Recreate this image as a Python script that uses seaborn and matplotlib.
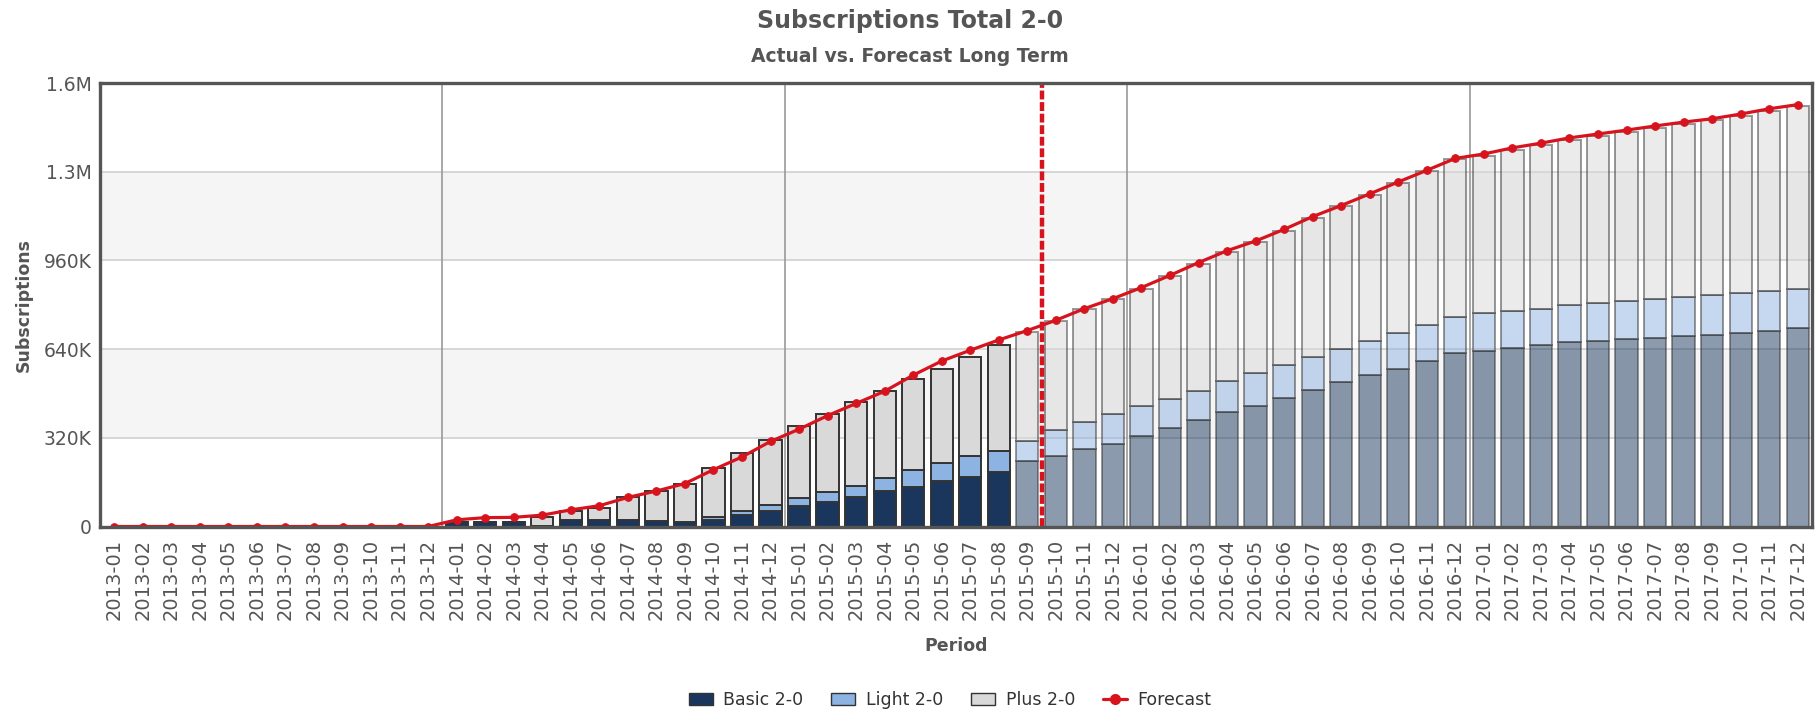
import numpy as np
import matplotlib
matplotlib.use("Agg")
import matplotlib.pyplot as plt
import seaborn as sns
from matplotlib.patches import Patch
from matplotlib.lines import Line2D

# categories: monthly periods 2013-01 .. 2017-12
periods = [f"{y}-{m:02d}" for y in range(2013, 2018) for m in range(1, 13)]

# values in thousands of subscriptions
basic = [0] * 12 + [15, 17, 17, 3, 22, 22, 22, 20, 17, 22,
                    43, 57, 73, 88, 107, 128, 143, 165, 178, 195,
                    235, 255, 278, 297, 326, 355, 384, 412, 433, 463,
                    492, 520, 548, 570, 597, 627, 634, 643, 656, 665,
                    671, 678, 679, 687, 692, 699, 706, 716]
light = [0] * 12 + [0, 0, 0, 0, 0, 0, 0, 0, 0, 12,
                    14, 21, 31, 38, 40, 47, 62, 63, 77, 79,
                    74, 92, 99, 109, 107, 106, 106, 114, 121, 121,
                    121, 121, 122, 128, 129, 128, 135, 133, 129, 133,
                    134, 136, 142, 140, 143, 142, 143, 141]
plus = [0] * 12 + [0, 0, 0, 31, 34, 46, 85, 107, 137, 177,
                   207, 235, 259, 279, 301, 315, 328, 341, 356, 379,
                   391, 395, 406, 414, 425, 441, 458, 464, 471, 482,
                   500, 514, 527, 542, 556, 570, 569, 584, 593, 598,
                   605, 610, 618, 626, 631, 641, 651, 659]
forecast = [0] * 12 + [24, 32, 33, 41, 60, 75, 105, 128, 155, 205,
                       251, 307, 351, 400, 444, 488, 546, 597, 636, 673,
                       707, 744, 786, 822, 862, 906, 952, 995, 1030, 1072,
                       1118, 1158, 1200, 1243, 1285, 1328, 1344, 1366, 1383, 1402,
                       1416, 1430, 1445, 1459, 1471, 1488, 1507, 1522]
first_forecast = periods.index("2015-09")
cutoff = periods.index("2015-10")

y_ticks = [0, 320, 640, 960, 1280, 1600]
y_labels = ["0", "320K", "640K", "960K", "1.3M", "1.6M"]

c_basic = "#1a365d"
c_light = "#8db3e2"
c_plus = "#d9d9d9"
c_red = "#d7141e"
c_text = "#555555"

sns.set_theme(style="white")
plt.rcParams["font.family"] = ["DejaVu Sans"]

fig = plt.figure(figsize=(18.2, 7.13), dpi=100)
ax = fig.add_axes([0.05495, 0.26157, 0.94066, 0.62202])

x = np.arange(len(periods))
basic = np.array(basic)
light = np.array(light)
plus = np.array(plus)
act = x < first_forecast
fc = ~act

# alternating background bands
for lo in (320, 960):
    ax.axhspan(lo, lo + 320, color="#f5f5f5", zorder=0, lw=0)

w = 0.78
for mask, alpha in ((act, 1.0), (fc, 0.5)):
    ax.bar(x[mask], basic[mask], width=w, color=c_basic, edgecolor="#333333",
           linewidth=1.4, alpha=alpha, zorder=2)
    ax.bar(x[mask], light[mask], bottom=basic[mask], width=w, color=c_light,
           edgecolor="#333333", linewidth=1.4, alpha=alpha, zorder=2)
    ax.bar(x[mask], plus[mask], bottom=(basic + light)[mask], width=w,
           color=c_plus, edgecolor="#333333", linewidth=1.4, alpha=alpha, zorder=2)

sns.lineplot(x=x, y=forecast, ax=ax, color=c_red, lw=2.3, marker="o",
             markersize=5.5, markeredgecolor=c_red, zorder=4, legend=False)

ax.axvline(cutoff - 0.5, color=c_red, lw=3.2, dashes=(2.0, 0.6), zorder=5)
for b in (11.5, 23.5, 35.5, 47.5):
    ax.axvline(b, color="#999999", lw=1.2, zorder=0.6)

ax.set_xlim(-0.5, len(periods) - 0.5)
ax.set_ylim(0, 1600)
ax.set_yticks(y_ticks)
ax.set_yticklabels(y_labels)
ax.set_xticks(x)
ax.set_xticklabels(periods, rotation=90)
ax.tick_params(axis="y", labelsize=13.5, colors=c_text, length=0, pad=6)
ax.tick_params(axis="x", labelsize=14, colors=c_text, length=0, pad=9)
ax.yaxis.grid(True, color="#d0d0d0", lw=1.2)
ax.set_axisbelow(True)
for s in ax.spines.values():
    s.set_color("#555555")
    s.set_linewidth(2.4)
    s.set_zorder(6)

ax.set_ylabel("Subscriptions", fontsize=12.5, fontweight="bold", color=c_text)
ax.set_xlabel("Period", fontsize=12.5, fontweight="bold", color=c_text)
ax.xaxis.set_label_coords(0.5, -0.25)
ax.yaxis.set_label_coords(-0.039, 0.5)

fig.text(0.5, 1 - 21 / 713, "Subscriptions Total 2-0", ha="center", va="center",
         fontsize=17, fontweight="bold", color=c_text)
fig.text(0.5, 1 - 57 / 713, "Actual vs. Forecast Long Term", ha="center",
         va="center", fontsize=13.5, fontweight="bold", color=c_text)

handles = [
    Patch(facecolor=c_basic, edgecolor="#333333", label="Basic 2-0"),
    Patch(facecolor=c_light, edgecolor="#333333", label="Light 2-0"),
    Patch(facecolor=c_plus, edgecolor="#333333", label="Plus 2-0"),
    Line2D([0], [0], color=c_red, lw=2.3, marker="o", markersize=7,
           label="Forecast"),
]
fig.legend(handles=handles, loc="center", bbox_to_anchor=(0.522, 1 - 700 / 713),
           ncol=4, frameon=False, fontsize=12.5, labelcolor="#333333",
           handlelength=1.4, handletextpad=0.6, columnspacing=1.6)

fig.savefig("out.png", dpi=100)
